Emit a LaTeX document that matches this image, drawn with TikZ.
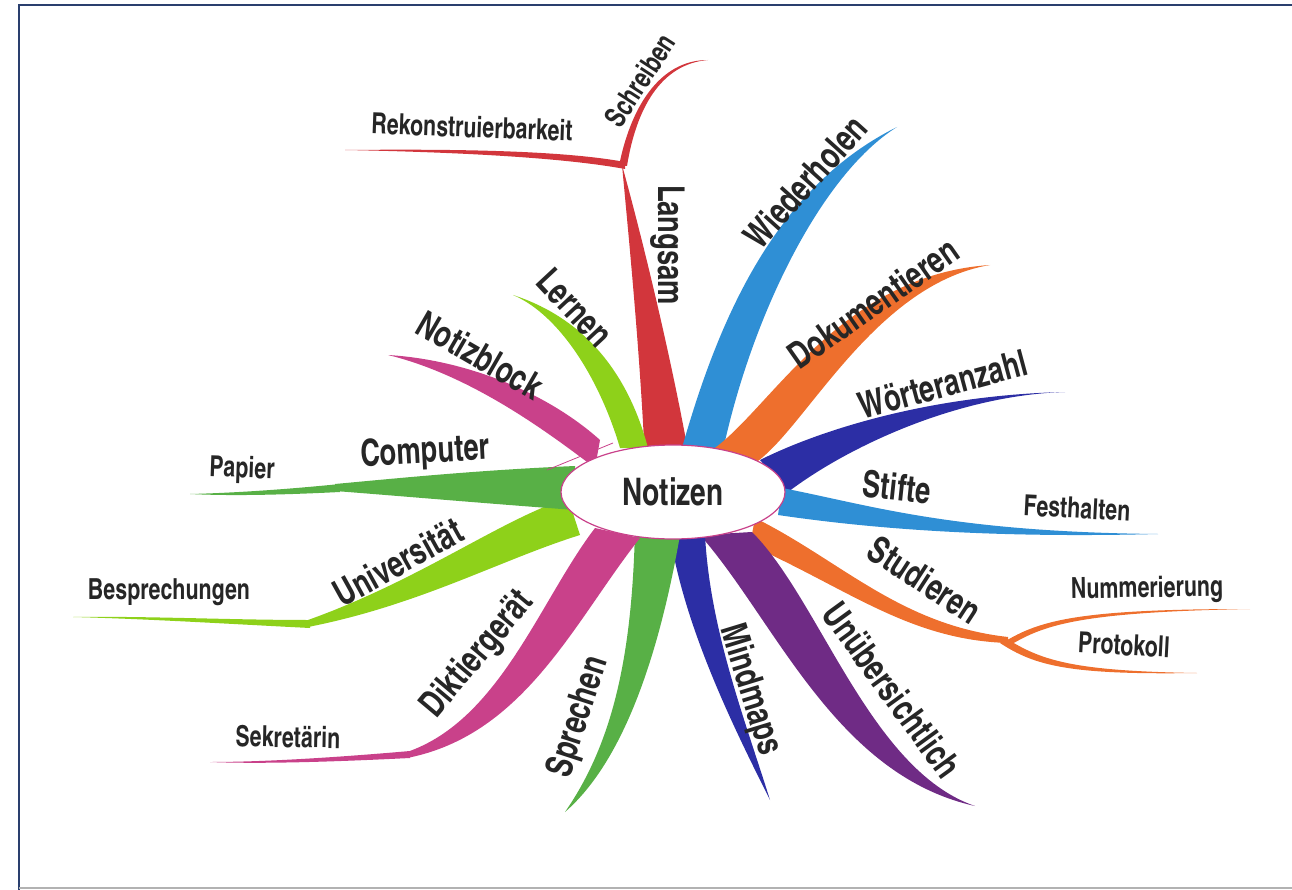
\documentclass[tikz,border=0pt]{standalone}
\usepackage{fontspec}
\setmainfont[FakeStretch=0.9]{texgyreheroscn-bold.otf}
\usetikzlibrary{shapes.geometric}
\definecolor{mmred}{HTML}{D2363C}
\definecolor{mmblue}{HTML}{2F8FD5}
\definecolor{mmorange}{HTML}{EE6F2D}
\definecolor{mmnavy}{HTML}{2C2EA5}
\definecolor{mmpurple}{HTML}{6F2B85}
\definecolor{mmgreen}{HTML}{58B046}
\definecolor{mmpink}{HTML}{C9418A}
\definecolor{mmlime}{HTML}{8ED11A}
\definecolor{mmframe}{HTML}{2A3F6E}
\definecolor{mmtext}{HTML}{262626}
\begin{document}
\begin{tikzpicture}[x=1pt,y=-1pt,
    lbl/.style={text=mmtext,inner sep=0pt,font=\fontsize{37}{37}\selectfont},
    sublbl/.style={text=mmtext,inner sep=0pt,font=\fontsize{29}{29}\selectfont}]
  \useasboundingbox (0,0) rectangle (1292,890);
  % frame
  \draw[mmframe,line width=2.5pt] (19,890) -- (19,5) -- (1292,5);
  \draw[gray!60,line width=1.5pt] (19,888) -- (1292,888);
  % tips and junctions
  \coordinate (langsamJ) at (622,165);
  \coordinate (rekonT) at (345,150);
  \coordinate (schreibT) at (708,60);
  \coordinate (wiederT) at (897,127);
  \coordinate (dokuT) at (990,265);
  \coordinate (woerterT) at (1065,392);
  \coordinate (festT) at (1158,534);
  \coordinate (studJ) at (1008,640);
  \coordinate (nummT) at (1250,609);
  \coordinate (protT) at (1197,673);
  \coordinate (unuebT) at (975,806);
  \coordinate (mindT) at (770,800);
  \coordinate (sprechT) at (565,812);
  \coordinate (diktJ) at (407,755);
  \coordinate (sekrT) at (210,762);
  \coordinate (uniJ) at (308,623);
  \coordinate (bespT) at (73,617);
  \coordinate (compJ) at (335,488);
  \coordinate (papT) at (190,494);
  \coordinate (blockT) at (388,355);
  \coordinate (lernT) at (513,295);
  % branches
  \fill[mmred] (645,462) .. controls (640,350) and (628,230) .. (langsamJ)
    .. controls (640,230) and (670,350) .. (690,462) -- cycle;
  \fill[mmred] (625,162) .. controls (560,150) and (450,149) .. (rekonT)
    .. controls (450,152) and (560,157) .. (625,169) -- cycle;
  \fill[mmred] (619,166) .. controls (630,110) and (658,60) .. (schreibT)
    .. controls (660,64) and (636,110) .. (627,166) -- cycle;
  \fill[mmblue] (680,455) .. controls (715,330) and (770,190) .. (wiederT)
    .. controls (820,175) and (750,320) .. (722,455) -- cycle;
  \fill[mmorange] (712,450) .. controls (770,410) and (840,275) .. (dokuT)
    .. controls (870,285) and (800,440) .. (750,466) -- cycle;
  \fill[mmnavy] (760,460) .. controls (820,430) and (930,395) .. (woerterT)
    .. controls (960,395) and (850,445) .. (788,492) -- cycle;
  \fill[mmblue] (782,488) .. controls (870,505) and (950,532) .. (festT)
    .. controls (1000,538) and (880,530) .. (778,515) -- cycle;
  \fill[mmorange] (755,518) .. controls (840,560) and (900,625) .. (1008,637)
    -- (1008,643) .. controls (910,640) and (850,590) .. (750,545) -- cycle;
  \fill[mmorange] (1004,642) .. controls (1040,620) and (1080,609) .. (nummT)
    .. controls (1080,612) and (1045,625) .. (1012,644) -- cycle;
  \fill[mmorange] (1004,637) .. controls (1040,660) and (1070,671) .. (protT)
    .. controls (1070,675) and (1035,666) .. (1000,643) -- cycle;
  \fill[mmpurple] (700,535) .. controls (775,620) and (835,775) .. (unuebT)
    .. controls (870,770) and (820,600) .. (752,532) -- cycle;
  \fill[mmnavy] (670,535) .. controls (685,630) and (735,730) .. (mindT)
    .. controls (745,720) and (710,630) .. (705,535) -- cycle;
  \fill[mmgreen] (635,530) .. controls (632,650) and (615,740) .. (sprechT)
    .. controls (625,760) and (660,650) .. (680,535) -- cycle;
  \fill[mmpink] (595,528) .. controls (540,600) and (500,720) .. (407,752)
    -- (407,758) .. controls (525,735) and (575,620) .. (640,538) -- cycle;
  \fill[mmpink] (410,751) .. controls (330,758) and (260,762) .. (sekrT)
    .. controls (260,764) and (330,762) .. (410,758) -- cycle;
  \fill[mmlime] (568,498) .. controls (500,520) and (420,580) .. (308,620)
    -- (308,627) .. controls (420,605) and (500,560) .. (580,535) -- cycle;
  \fill[mmlime] (310,620) .. controls (230,620) and (150,616) .. (bespT)
    .. controls (150,619) and (230,624) .. (310,628) -- cycle;
  \fill[mmgreen] (575,466) .. controls (480,470) and (400,478) .. (335,484)
    -- (335,491) .. controls (400,496) and (480,503) .. (575,510) -- cycle;
  \fill[mmgreen] (340,484) .. controls (280,490) and (230,493) .. (papT)
    .. controls (230,496) and (280,495) .. (340,492) -- cycle;
  \fill[mmpink] (600,440) .. controls (550,395) and (470,360) .. (blockT)
    .. controls (470,375) and (545,430) .. (595,468) -- cycle;
  \draw[mmpink,line width=0.8pt] (547,470) -- (613,443);
  \fill[mmlime] (620,448) .. controls (600,380) and (560,315) .. (lernT)
    .. controls (590,320) and (630,380) .. (648,448) -- cycle;
  % centre
  \node[draw=mmpink,line width=1.2pt,fill=white,ellipse,minimum width=224pt,
    minimum height=94pt,inner sep=0pt,text=mmtext,
    font=\fontsize{38}{38}\selectfont] (notizen) at (673,492) {Notizen};
  % labels
  \draw
    (668,245) node[lbl,rotate=-90] (langsam){Langsam}
    (640,80) node[sublbl,rotate=57] (schreiben){Schreiben}
    (472,127) node[sublbl,rotate=-2] (rekon){Rekonstruierbarkeit}
    (805,182) node[lbl,rotate=48] (wiederholen){Wiederholen}
    (873,303) node[lbl,rotate=35] (doku){Dokumentieren}
    (943,384) node[lbl,rotate=15] (woerter){Wörteranzahl}
    (897,487) node[lbl,rotate=-6] (stifte){Stifte}
    (1077,508) node[sublbl,rotate=-3] (fest){Festhalten}
    (925,580) node[lbl,rotate=-33] (studieren){Studieren}
    (1147,590) node[sublbl,rotate=1] (numm){Nummerierung}
    (1124,645) node[sublbl,rotate=-3] (prot){Protokoll}
    (892,690) node[lbl,rotate=-54] (unueb){Unübersichtlich}
    (750,690) node[lbl,rotate=-73] (mind){Mindmaps}
    (579,717) node[lbl,rotate=72] (sprechen){Sprechen}
    (478,655) node[lbl,rotate=50] (dikt){Diktiergerät}
    (288,737) node[sublbl,rotate=-1] (sekr){Sekretärin}
    (398,562) node[lbl,rotate=29] (uni){Universität}
    (169,592) node[sublbl] (besp){Besprechungen}
    (425,453) node[lbl,rotate=3] (comp){Computer}
    (242,470) node[sublbl,rotate=-2] (papier){Papier}
    (480,355) node[lbl,rotate=-30] (block){Notizblock}
    (575,308) node[lbl,rotate=-47] (lernen){Lernen};
\end{tikzpicture}
\end{document}
